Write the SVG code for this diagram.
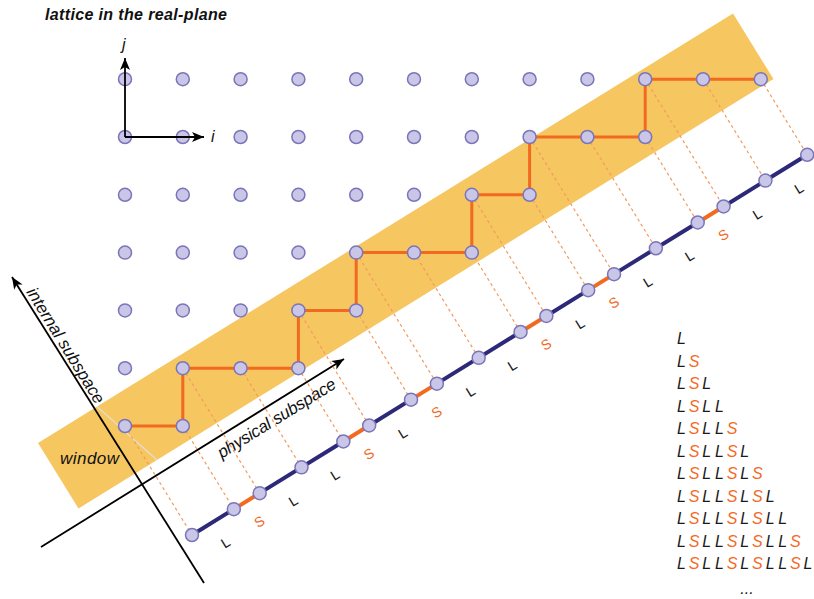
<svg xmlns="http://www.w3.org/2000/svg" width="814" height="599" viewBox="0 0 814 599">
<style>
.dot{fill:#c9c6e8;stroke:#7a75b8;stroke-width:1.5}
.dash{stroke:#f39a5e;stroke-width:1.2;stroke-dasharray:3 3;fill:none}
.path{stroke:#f26a1f;stroke-width:3;fill:none;stroke-linejoin:round}
.axis{stroke:#000;stroke-width:1.8;fill:none}
.t{font-family:"Liberation Sans",Arial,sans-serif;font-style:italic;fill:#111}
.lab{font-family:"Liberation Sans",Arial,sans-serif;font-size:14px;text-anchor:middle}
.L{fill:#1a1a1a}
.S{fill:#f26a1f}
.col{font-family:"Liberation Sans",Arial,sans-serif;font-style:italic;font-size:16px;text-anchor:middle}
</style>
<defs>
<marker id="ah" viewBox="0 0 12 10" refX="12" refY="5" markerWidth="12" markerHeight="10" orient="auto" markerUnits="userSpaceOnUse"><path d="M0,0 L12,5 L0,10 L3,5 z" fill="#000"/></marker>
</defs>

<g id="window">
<polygon points="38,443 733,13.5 773.5,79 78.5,508.5" fill="#f6c660"/>
<line x1="97" y1="406.5" x2="157" y2="460" stroke="#e8dcc2" stroke-width="1.5"/>
<text class="t" x="60" y="464" font-size="17" textLength="59">window</text>
</g>

<g id="title"><text class="t" x="45" y="20" font-size="16" font-weight="bold" textLength="182">lattice in the real-plane</text></g>

<g id="axes">
<line class="axis" x1="41" y1="547" x2="344" y2="359" marker-end="url(#ah)"/>
<line class="axis" x1="204" y1="583" x2="12" y2="277" marker-end="url(#ah)"/>
<text class="t" font-size="17" transform="translate(12 277) rotate(58.28)" x="20" y="-4" textLength="133">internal subspace</text>
<text class="t" font-size="17" transform="translate(41 547) rotate(-31.72)" x="200" y="20" textLength="136">physical subspace</text>
</g>

<g id="projections">
<line class="dash" x1="125" y1="426" x2="192" y2="535"/>
<line class="dash" x1="182.8" y1="426" x2="233.83" y2="509.15"/>
<line class="dash" x1="182.8" y1="368.2" x2="259.68" y2="493.17"/>
<line class="dash" x1="240.6" y1="368.2" x2="301.51" y2="467.32"/>
<line class="dash" x1="298.4" y1="368.2" x2="343.34" y2="441.47"/>
<line class="dash" x1="298.4" y1="310.4" x2="369.19" y2="425.49"/>
<line class="dash" x1="356.2" y1="310.4" x2="411.02" y2="399.64"/>
<line class="dash" x1="356.2" y1="252.6" x2="436.87" y2="383.66"/>
<line class="dash" x1="414" y1="252.6" x2="478.7" y2="357.81"/>
<line class="dash" x1="471.8" y1="252.6" x2="520.53" y2="331.96"/>
<line class="dash" x1="471.8" y1="194.8" x2="546.38" y2="315.98"/>
<line class="dash" x1="529.6" y1="194.8" x2="588.21" y2="290.13"/>
<line class="dash" x1="529.6" y1="137" x2="614.06" y2="274.15"/>
<line class="dash" x1="587.4" y1="137" x2="655.89" y2="248.3"/>
<line class="dash" x1="645.2" y1="137" x2="697.72" y2="222.45"/>
<line class="dash" x1="645.2" y1="79.2" x2="723.57" y2="206.47"/>
<line class="dash" x1="703" y1="79.2" x2="765.4" y2="180.62"/>
<line class="dash" x1="760.8" y1="79.2" x2="807.23" y2="154.77"/>
</g>

<g id="staircase">
<polyline class="path" points="125,426 182.8,426 182.8,368.2 240.6,368.2 298.4,368.2 298.4,310.4 356.2,310.4 356.2,252.6 414,252.6 471.8,252.6 471.8,194.8 529.6,194.8 529.6,137 587.4,137 645.2,137 645.2,79.2 703,79.2 760.8,79.2"/>
</g>

<g id="chain" stroke-width="4" stroke-linecap="butt">
<line x1="192" y1="535" x2="233.83" y2="509.15" stroke="#2c2a78"/>
<line x1="233.83" y1="509.15" x2="259.68" y2="493.17" stroke="#f26a1f"/>
<line x1="259.68" y1="493.17" x2="343.34" y2="441.47" stroke="#2c2a78"/>
<line x1="343.34" y1="441.47" x2="369.19" y2="425.49" stroke="#f26a1f"/>
<line x1="369.19" y1="425.49" x2="411.02" y2="399.64" stroke="#2c2a78"/>
<line x1="411.02" y1="399.64" x2="436.87" y2="383.66" stroke="#f26a1f"/>
<line x1="436.87" y1="383.66" x2="520.53" y2="331.96" stroke="#2c2a78"/>
<line x1="520.53" y1="331.96" x2="546.38" y2="315.98" stroke="#f26a1f"/>
<line x1="546.38" y1="315.98" x2="588.21" y2="290.13" stroke="#2c2a78"/>
<line x1="588.21" y1="290.13" x2="614.06" y2="274.15" stroke="#f26a1f"/>
<line x1="614.06" y1="274.15" x2="697.72" y2="222.45" stroke="#2c2a78"/>
<line x1="697.72" y1="222.45" x2="723.57" y2="206.47" stroke="#f26a1f"/>
<line x1="723.57" y1="206.47" x2="807.23" y2="154.77" stroke="#2c2a78"/>
</g>

<g id="lattice-dots">
<circle class="dot" cx="125" cy="79.2" r="6.5"/><circle class="dot" cx="182.8" cy="79.2" r="6.5"/><circle class="dot" cx="240.6" cy="79.2" r="6.5"/><circle class="dot" cx="298.4" cy="79.2" r="6.5"/><circle class="dot" cx="356.2" cy="79.2" r="6.5"/><circle class="dot" cx="414" cy="79.2" r="6.5"/><circle class="dot" cx="471.8" cy="79.2" r="6.5"/><circle class="dot" cx="529.6" cy="79.2" r="6.5"/><circle class="dot" cx="587.4" cy="79.2" r="6.5"/>
<circle class="dot" cx="125" cy="137" r="6.5"/><circle class="dot" cx="182.8" cy="137" r="6.5"/><circle class="dot" cx="240.6" cy="137" r="6.5"/><circle class="dot" cx="298.4" cy="137" r="6.5"/><circle class="dot" cx="356.2" cy="137" r="6.5"/><circle class="dot" cx="414" cy="137" r="6.5"/><circle class="dot" cx="471.8" cy="137" r="6.5"/>
<circle class="dot" cx="125" cy="194.8" r="6.5"/><circle class="dot" cx="182.8" cy="194.8" r="6.5"/><circle class="dot" cx="240.6" cy="194.8" r="6.5"/><circle class="dot" cx="298.4" cy="194.8" r="6.5"/><circle class="dot" cx="356.2" cy="194.8" r="6.5"/><circle class="dot" cx="414" cy="194.8" r="6.5"/>
<circle class="dot" cx="125" cy="252.6" r="6.5"/><circle class="dot" cx="182.8" cy="252.6" r="6.5"/><circle class="dot" cx="240.6" cy="252.6" r="6.5"/><circle class="dot" cx="298.4" cy="252.6" r="6.5"/>
<circle class="dot" cx="125" cy="310.4" r="6.5"/><circle class="dot" cx="182.8" cy="310.4" r="6.5"/><circle class="dot" cx="240.6" cy="310.4" r="6.5"/>
<circle class="dot" cx="125" cy="368.2" r="6.5"/>
</g>

<g id="path-dots">
<circle class="dot" cx="125" cy="426" r="6.5"/><circle class="dot" cx="182.8" cy="426" r="6.5"/><circle class="dot" cx="182.8" cy="368.2" r="6.5"/><circle class="dot" cx="240.6" cy="368.2" r="6.5"/><circle class="dot" cx="298.4" cy="368.2" r="6.5"/><circle class="dot" cx="298.4" cy="310.4" r="6.5"/><circle class="dot" cx="356.2" cy="310.4" r="6.5"/><circle class="dot" cx="356.2" cy="252.6" r="6.5"/><circle class="dot" cx="414" cy="252.6" r="6.5"/><circle class="dot" cx="471.8" cy="252.6" r="6.5"/><circle class="dot" cx="471.8" cy="194.8" r="6.5"/><circle class="dot" cx="529.6" cy="194.8" r="6.5"/><circle class="dot" cx="529.6" cy="137" r="6.5"/><circle class="dot" cx="587.4" cy="137" r="6.5"/><circle class="dot" cx="645.2" cy="137" r="6.5"/><circle class="dot" cx="645.2" cy="79.2" r="6.5"/><circle class="dot" cx="703" cy="79.2" r="6.5"/><circle class="dot" cx="760.8" cy="79.2" r="6.5"/>
</g>

<g id="chain-dots">
<circle class="dot" cx="192" cy="535" r="6.5"/><circle class="dot" cx="233.83" cy="509.15" r="6.5"/><circle class="dot" cx="259.68" cy="493.17" r="6.5"/><circle class="dot" cx="301.51" cy="467.32" r="6.5"/><circle class="dot" cx="343.34" cy="441.47" r="6.5"/><circle class="dot" cx="369.19" cy="425.49" r="6.5"/><circle class="dot" cx="411.02" cy="399.64" r="6.5"/><circle class="dot" cx="436.87" cy="383.66" r="6.5"/><circle class="dot" cx="478.7" cy="357.81" r="6.5"/><circle class="dot" cx="520.53" cy="331.96" r="6.5"/><circle class="dot" cx="546.38" cy="315.98" r="6.5"/><circle class="dot" cx="588.21" cy="290.13" r="6.5"/><circle class="dot" cx="614.06" cy="274.15" r="6.5"/><circle class="dot" cx="655.89" cy="248.3" r="6.5"/><circle class="dot" cx="697.72" cy="222.45" r="6.5"/><circle class="dot" cx="723.57" cy="206.47" r="6.5"/><circle class="dot" cx="765.4" cy="180.62" r="6.5"/><circle class="dot" cx="807.23" cy="154.77" r="6.5"/>
</g>

<g id="ij-axes">
<line class="axis" x1="125" y1="137" x2="125" y2="58" marker-end="url(#ah)"/>
<line class="axis" x1="125" y1="137" x2="204" y2="137" marker-end="url(#ah)"/>
<text class="t" x="122" y="50" font-size="16">j</text>
<text class="t" x="211" y="142" font-size="16">i</text>
</g>

<g id="chain-labels" class="lab">
<text class="L" transform="translate(212.92 522.08) rotate(-31.72)" y="29">L</text>
<text class="S" transform="translate(246.76 501.16) rotate(-31.72)" y="29">S</text>
<text class="L" transform="translate(280.6 480.25) rotate(-31.72)" y="29">L</text>
<text class="L" transform="translate(322.43 454.4) rotate(-31.72)" y="29">L</text>
<text class="S" transform="translate(356.27 433.48) rotate(-31.72)" y="29">S</text>
<text class="L" transform="translate(390.11 412.57) rotate(-31.72)" y="29">L</text>
<text class="S" transform="translate(423.95 391.65) rotate(-31.72)" y="29">S</text>
<text class="L" transform="translate(457.79 370.74) rotate(-31.72)" y="29">L</text>
<text class="L" transform="translate(499.62 344.89) rotate(-31.72)" y="29">L</text>
<text class="S" transform="translate(533.46 323.97) rotate(-31.72)" y="29">S</text>
<text class="L" transform="translate(567.3 303.06) rotate(-31.72)" y="29">L</text>
<text class="S" transform="translate(601.14 282.14) rotate(-31.72)" y="29">S</text>
<text class="L" transform="translate(634.98 261.23) rotate(-31.72)" y="29">L</text>
<text class="L" transform="translate(676.81 235.38) rotate(-31.72)" y="29">L</text>
<text class="S" transform="translate(710.65 214.46) rotate(-31.72)" y="29">S</text>
<text class="L" transform="translate(744.49 193.55) rotate(-31.72)" y="29">L</text>
<text class="L" transform="translate(786.32 167.7) rotate(-31.72)" y="29">L</text>
</g>

<g id="sequence" class="col">
<text y="344"><tspan class="L" x="681.5">L</tspan></text>
<text y="366.5"><tspan class="L" x="681.5">L</tspan><tspan class="S" x="694.2">S</tspan></text>
<text y="389"><tspan class="L" x="681.5">L</tspan><tspan class="S" x="694.2">S</tspan><tspan class="L" x="706.8">L</tspan></text>
<text y="411.5"><tspan class="L" x="681.5">L</tspan><tspan class="S" x="694.2">S</tspan><tspan class="L" x="706.8">L</tspan><tspan class="L" x="719.5">L</tspan></text>
<text y="434"><tspan class="L" x="681.5">L</tspan><tspan class="S" x="694.2">S</tspan><tspan class="L" x="706.8">L</tspan><tspan class="L" x="719.5">L</tspan><tspan class="S" x="732.1">S</tspan></text>
<text y="456.5"><tspan class="L" x="681.5">L</tspan><tspan class="S" x="694.2">S</tspan><tspan class="L" x="706.8">L</tspan><tspan class="L" x="719.5">L</tspan><tspan class="S" x="732.1">S</tspan><tspan class="L" x="744.8">L</tspan></text>
<text y="479"><tspan class="L" x="681.5">L</tspan><tspan class="S" x="694.2">S</tspan><tspan class="L" x="706.8">L</tspan><tspan class="L" x="719.5">L</tspan><tspan class="S" x="732.1">S</tspan><tspan class="L" x="744.8">L</tspan><tspan class="S" x="757.4">S</tspan></text>
<text y="501.5"><tspan class="L" x="681.5">L</tspan><tspan class="S" x="694.2">S</tspan><tspan class="L" x="706.8">L</tspan><tspan class="L" x="719.5">L</tspan><tspan class="S" x="732.1">S</tspan><tspan class="L" x="744.8">L</tspan><tspan class="S" x="757.4">S</tspan><tspan class="L" x="770.1">L</tspan></text>
<text y="524"><tspan class="L" x="681.5">L</tspan><tspan class="S" x="694.2">S</tspan><tspan class="L" x="706.8">L</tspan><tspan class="L" x="719.5">L</tspan><tspan class="S" x="732.1">S</tspan><tspan class="L" x="744.8">L</tspan><tspan class="S" x="757.4">S</tspan><tspan class="L" x="770.1">L</tspan><tspan class="L" x="782.7">L</tspan></text>
<text y="546.5"><tspan class="L" x="681.5">L</tspan><tspan class="S" x="694.2">S</tspan><tspan class="L" x="706.8">L</tspan><tspan class="L" x="719.5">L</tspan><tspan class="S" x="732.1">S</tspan><tspan class="L" x="744.8">L</tspan><tspan class="S" x="757.4">S</tspan><tspan class="L" x="770.1">L</tspan><tspan class="L" x="782.7">L</tspan><tspan class="S" x="795.4">S</tspan></text>
<text y="569"><tspan class="L" x="681.5">L</tspan><tspan class="S" x="694.2">S</tspan><tspan class="L" x="706.8">L</tspan><tspan class="L" x="719.5">L</tspan><tspan class="S" x="732.1">S</tspan><tspan class="L" x="744.8">L</tspan><tspan class="S" x="757.4">S</tspan><tspan class="L" x="770.1">L</tspan><tspan class="L" x="782.7">L</tspan><tspan class="S" x="795.4">S</tspan><tspan class="L" x="808">L</tspan></text>
<text y="594" x="747" class="L">...</text>
</g>
</svg>
